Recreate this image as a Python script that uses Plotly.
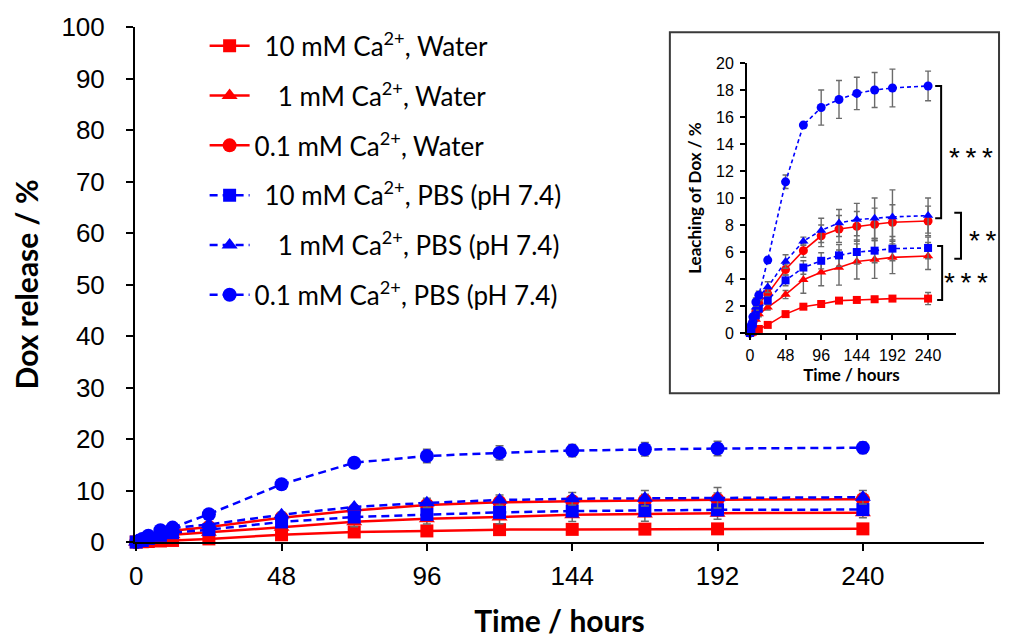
import plotly.graph_objects as go

# Sampling times (hours)
hours = [0, 2, 4, 8, 12, 24, 48, 72, 96, 120, 144, 168, 192, 240]

# Cumulative Dox release (%) and standard deviations per condition
water_10mM = [0, 0.05, 0.1, 0.2, 0.3, 0.6, 1.4, 1.95, 2.15, 2.4, 2.45, 2.5, 2.55, 2.55]
water_10mM_sd = [0, 0, 0, 0.05, 0.1, 0.1, 0.1, 0.1, 0.15, 0.15, 0.2, 0.2, 0.2, 0.45]
water_1mM = [0, 0.2, 0.5, 1.0, 1.4, 1.9, 2.85, 3.95, 4.5, 4.85, 5.3, 5.45, 5.6, 5.7]
water_1mM_sd = [0, 0.1, 0.1, 0.1, 0.2, 0.2, 0.3, 1.0, 1.0, 1.3, 1.3, 1.4, 1.2, 1.0]
water_01mM = [0, 0.4, 0.8, 1.6, 2.2, 2.9, 4.7, 6.1, 7.2, 7.7, 7.9, 8.05, 8.2, 8.3]
water_01mM_sd = [0, 0.1, 0.1, 0.2, 0.2, 0.3, 0.4, 0.5, 0.8, 1.0, 1.1, 1.2, 1.3, 1.1]
pbs_10mM = [0, 0.3, 0.7, 1.3, 1.8, 2.4, 3.9, 4.85, 5.35, 5.75, 6.0, 6.1, 6.25, 6.3]
pbs_10mM_sd = [0, 0.1, 0.1, 0.2, 0.2, 0.3, 0.4, 0.5, 0.6, 0.8, 0.9, 0.9, 0.9, 0.8]
pbs_1mM = [0, 0.5, 1.0, 1.9, 2.7, 3.4, 5.3, 6.8, 7.6, 8.15, 8.4, 8.5, 8.6, 8.7]
pbs_1mM_sd = [0, 0.1, 0.1, 0.2, 0.3, 0.4, 0.5, 0.3, 0.9, 1.0, 1.2, 1.5, 2.0, 1.3]
pbs_01mM = [0, 0.6, 1.2, 2.3, 2.8, 5.4, 11.2, 15.4, 16.7, 17.3, 17.75, 18.0, 18.15, 18.3]
pbs_01mM_sd = [0, 0.1, 0.2, 0.3, 0.3, 0.2, 0.5, 0.2, 1.3, 1.4, 1.2, 1.3, 1.4, 1.1]

NB = "\u00a0"
TH = "\u2009"
labels = [
    NB + TH + "10 mM Ca<sup>2+</sup>, Water",
    NB * 3 + TH + "1 mM Ca<sup>2+</sup>, Water",
    "0.1 mM Ca<sup>2+</sup>, Water",
    NB + TH + "10 mM Ca<sup>2+</sup>, PBS (pH 7.4)",
    NB * 3 + TH + "1 mM Ca<sup>2+</sup>, PBS (pH 7.4)",
    "0.1 mM Ca<sup>2+</sup>, PBS (pH 7.4)",
]
series = [water_10mM, water_1mM, water_01mM, pbs_10mM, pbs_1mM, pbs_01mM]
errors = [water_10mM_sd, water_1mM_sd, water_01mM_sd, pbs_10mM_sd, pbs_1mM_sd, pbs_01mM_sd]
symbols = ["square", "triangle-up", "circle"] * 2
colors = ["#FF0000"] * 3 + ["#0000FF"] * 3
dashes = ["solid"] * 3 + ["8px,5px"] * 3
dashes_inset = ["solid"] * 3 + ["4px,3px"] * 3
main_sizes = [13, 14, 14, 13, 14, 14]
inset_sizes = [8, 9, 9, 8, 9, 9]
ERR = "#6b6b6b"

fig = go.Figure()

# Main panel
for i in range(6):
    fig.add_trace(go.Scatter(
        x=hours, y=series[i], name=labels[i], mode="lines+markers",
        legendgroup=f"g{i}", cliponaxis=False,
        line=dict(color=colors[i], width=2.5, dash=dashes[i]),
        marker=dict(symbol=symbols[i], size=main_sizes[i], color=colors[i]),
        error_y=dict(type="data", array=errors[i], color=ERR, thickness=1.5, width=4),
        xaxis="x", yaxis="y",
    ))

# Inset panel
for i in range(6):
    fig.add_trace(go.Scatter(
        x=hours, y=series[i], name=labels[i], mode="lines+markers",
        showlegend=False, cliponaxis=False,
        line=dict(color=colors[i], width=1.6, dash=dashes_inset[i]),
        marker=dict(symbol=symbols[i], size=inset_sizes[i], color=colors[i]),
        error_y=dict(type="data", array=errors[i], color=ERR, thickness=1.4, width=3),
        xaxis="x2", yaxis="y2",
    ))

# Inset placement (paper coordinates of the main plot area)
IX0, IX1 = 0.7208, 0.9670
IY0, IY1 = 0.4058, 0.9301
IYMAX = 20


def inset_y(v):
    return IY0 + v / IYMAX * (IY1 - IY0)


shapes = [
    dict(type="rect", xref="paper", yref="paper", x0=0.630, x1=1.0177, y0=0.289, y1=0.990,
         line=dict(color="#3a3a3a", width=2), fillcolor="rgba(0,0,0,0)", layer="below"),
]

# Significance brackets: (x of spine, arm start, top value, bottom value)
brackets = [
    (0.9495, 0.9425, pbs_01mM[-1], 8.5),
    (0.9729, 0.9650, 8.9, 5.5),
    (0.9507, 0.9448, 6.45, 2.45),
]
for xs, xa, top, bot in brackets:
    yt, yb = inset_y(top), inset_y(bot)
    shapes.append(dict(type="path", xref="paper", yref="paper",
                       path=f"M{xa},{yt} L{xs},{yt} L{xs},{yb} L{xa},{yb}",
                       line=dict(color="black", width=2)))

star_font = dict(family="Liberation Sans, Arial", size=28, color="black")
annotations = [
    dict(text="*\u2009*\u2009*", x=0.9847, y=inset_y(13.0), xref="paper", yref="paper",
         showarrow=False, font=star_font, xanchor="center", yanchor="middle"),
    dict(text="*\u2009*", x=0.9988, y=inset_y(6.85), xref="paper", yref="paper",
         showarrow=False, font=star_font, xanchor="center", yanchor="middle"),
    dict(text="*\u2009*\u2009*", x=0.9788, y=inset_y(3.75), xref="paper", yref="paper",
         showarrow=False, font=star_font, xanchor="center", yanchor="middle"),
]

tick_font = dict(family="Liberation Sans, Arial", size=26, color="black")
title_font = dict(family="Lato", size=30, color="black")
inset_tick_font = dict(family="Liberation Sans, Arial", size=16, color="black")
inset_title_font = dict(family="Lato", size=17, color="black")

fig.update_layout(
    width=1012, height=639,
    margin=dict(l=135, r=28, t=27, b=97),
    paper_bgcolor="white", plot_bgcolor="white",
    showlegend=True,
    legend=dict(x=0.082, y=1.009, xanchor="left", yanchor="top",
                bgcolor="rgba(0,0,0,0)", tracegroupgap=13, itemwidth=40,
                font=dict(family="Lato", size=26, color="black")),
    xaxis=dict(domain=[0, 1], range=[-0.4, 280], tickvals=[0, 48, 96, 144, 192, 240],
               automargin=False,
               showline=True, linecolor="black", linewidth=2, ticks="outside",
               ticklen=7, tickwidth=2, tickcolor="black", showgrid=False, zeroline=False,
               tickfont=tick_font, ticklabelstandoff=3,
               title=dict(text="<b>Time / hours</b>", font=title_font, standoff=21)),
    yaxis=dict(domain=[0, 1], range=[0, 100], dtick=10,
               automargin=False,
               showline=True, linecolor="black", linewidth=2, ticks="outside",
               ticklen=7, tickwidth=2, tickcolor="black", showgrid=False, zeroline=False,
               tickfont=tick_font, ticklabelstandoff=16,
               title=dict(text="<b>Dox release / %</b>", font=title_font, standoff=14)),
    xaxis2=dict(domain=[IX0, IX1], anchor="y2", range=[-4, 277.6],
                tickvals=[0, 48, 96, 144, 192, 240], automargin=False,
                showline=True, linecolor="black", linewidth=1.8, ticks="outside",
                ticklen=5, tickwidth=1.5, tickcolor="black", showgrid=False, zeroline=False,
                tickfont=inset_tick_font, ticklabelstandoff=2,
                title=dict(text="<b>Time / hours</b>", font=inset_title_font, standoff=4)),
    yaxis2=dict(domain=[IY0, IY1], anchor="x2", range=[0, IYMAX], dtick=2, automargin=False,
                showline=True, linecolor="black", linewidth=1.8, ticks="outside",
                ticklen=5, tickwidth=1.5, tickcolor="black", showgrid=False, zeroline=False,
                tickfont=inset_tick_font, ticklabelstandoff=3,
                title=dict(text="<b>Leaching of Dox / %</b>", font=inset_title_font, standoff=10)),
    shapes=shapes,
    annotations=annotations,
)

fig.write_html("out.html")
